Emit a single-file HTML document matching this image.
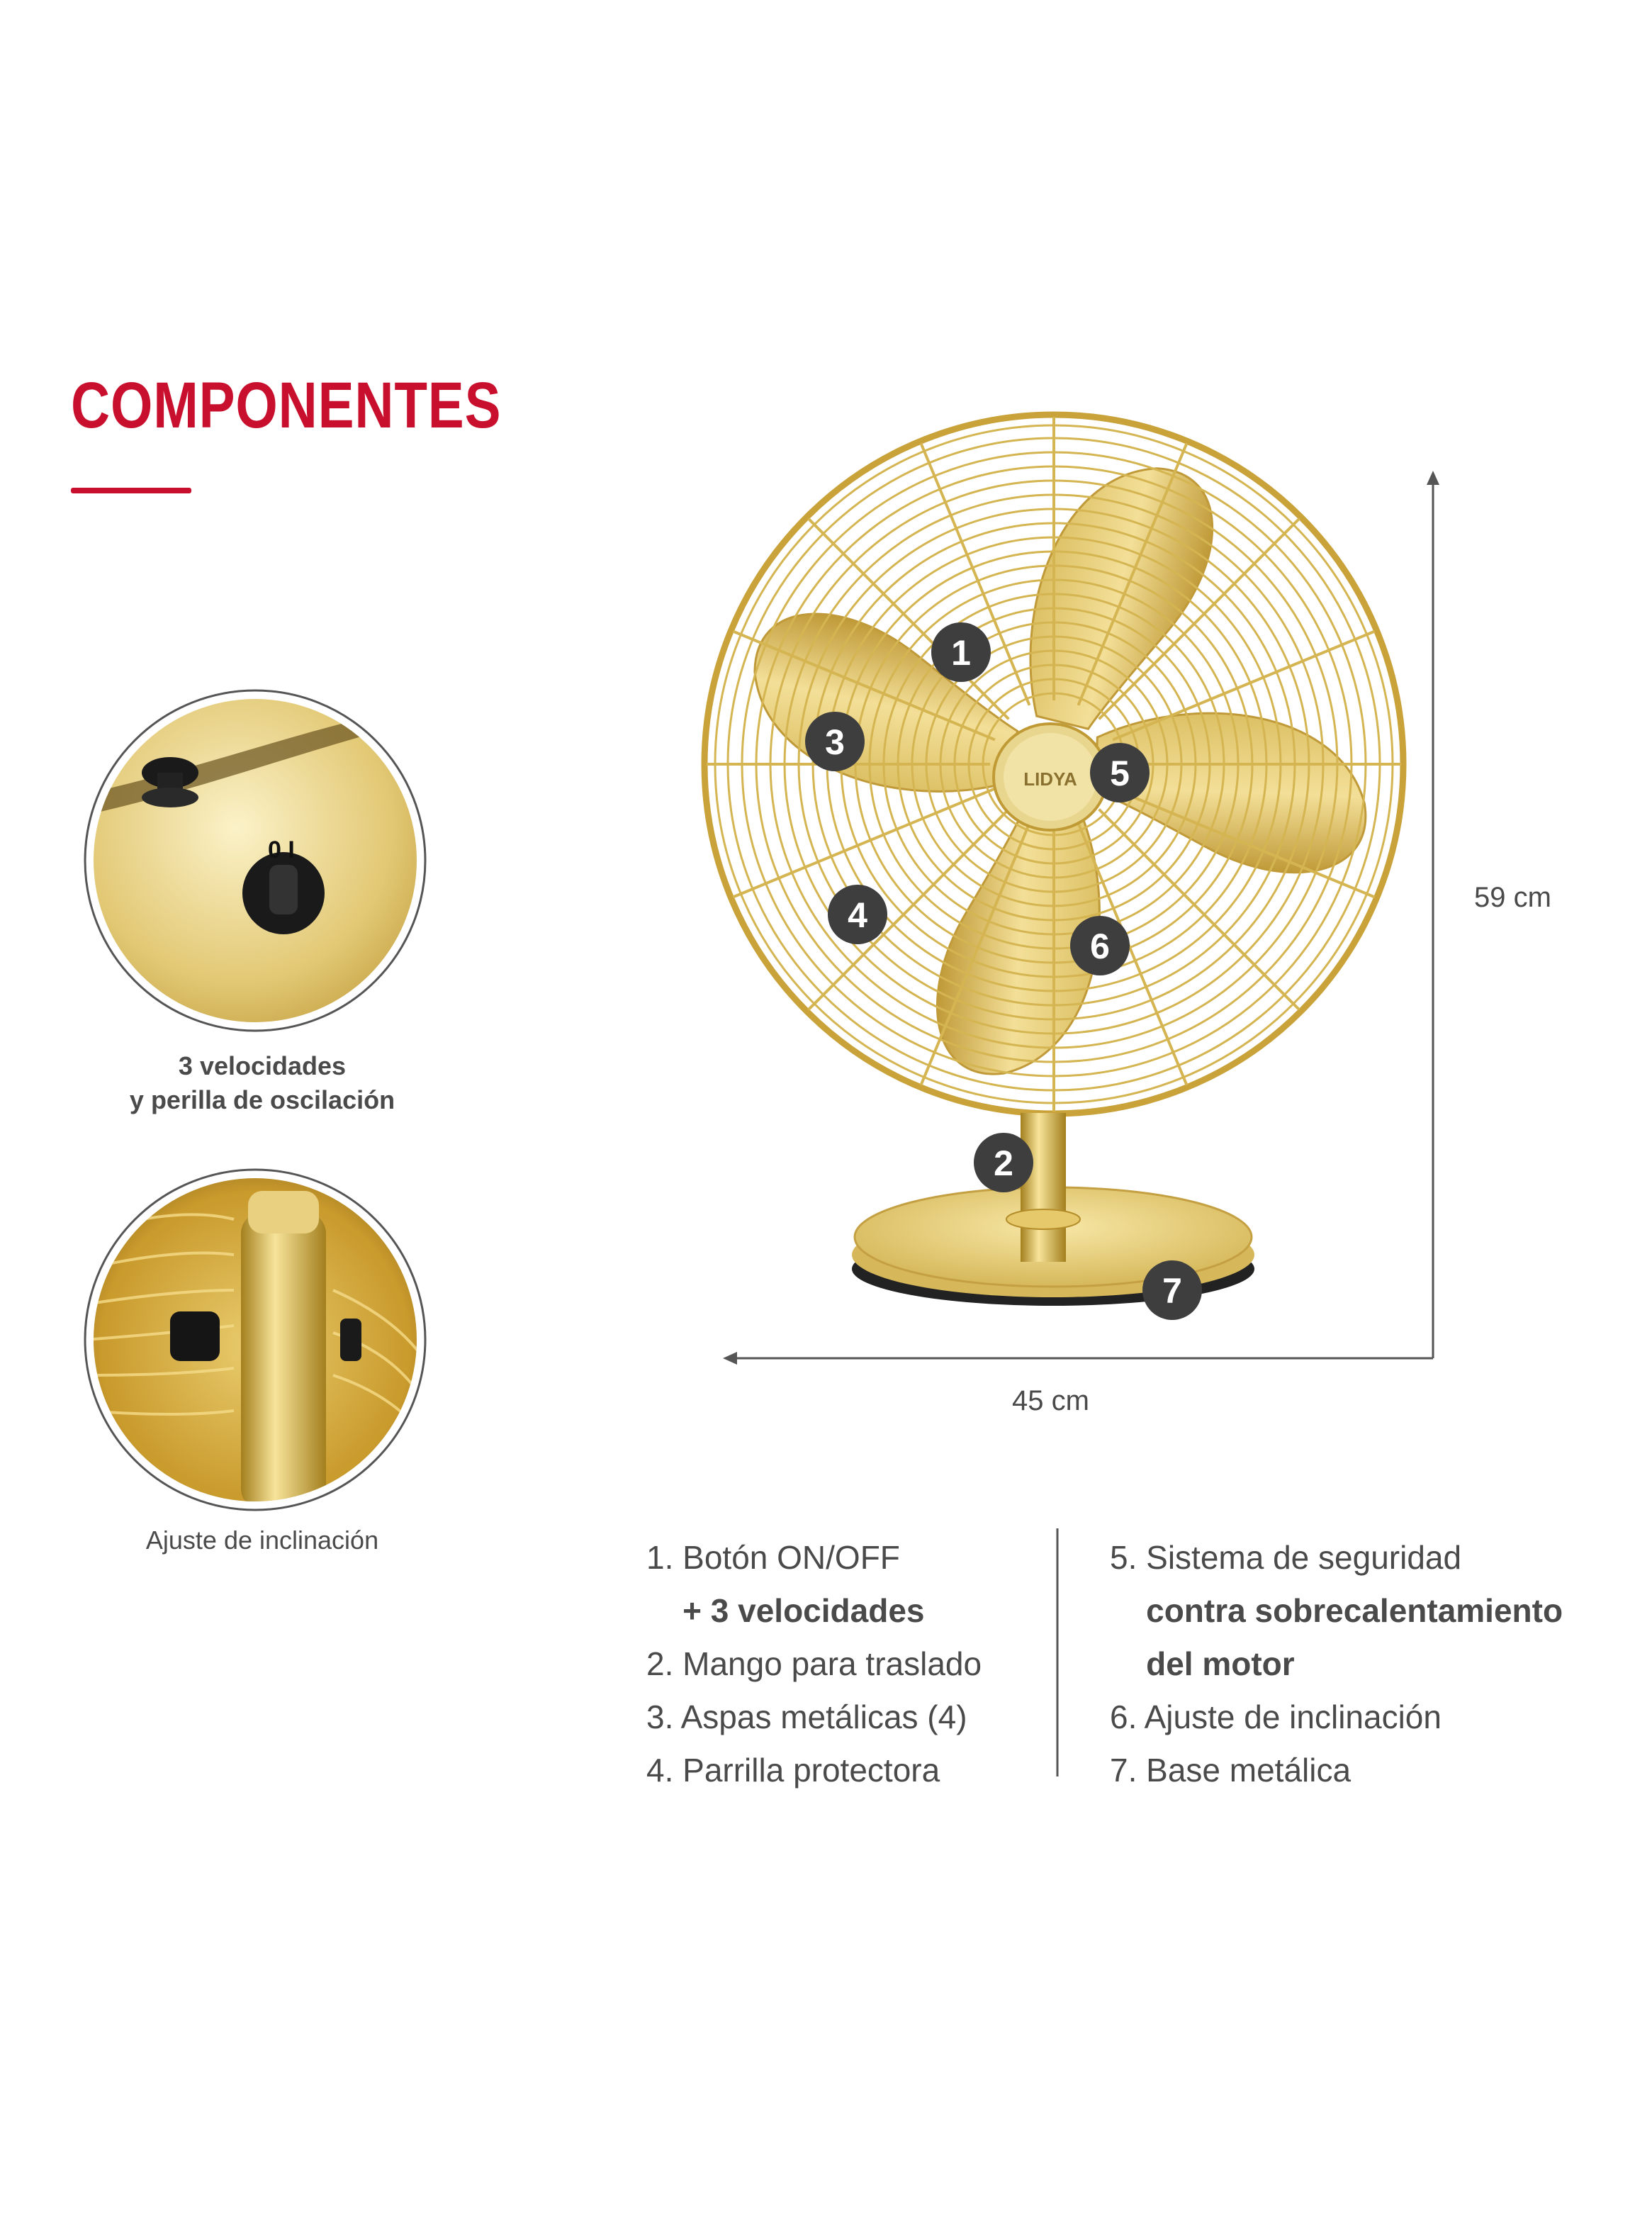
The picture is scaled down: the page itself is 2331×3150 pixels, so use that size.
<!DOCTYPE html>
<html><head><meta charset="utf-8"><style>
html,body{margin:0;padding:0;background:#fff;}
body{width:2331px;height:3150px;position:relative;overflow:hidden;font-family:"Liberation Sans",sans-serif;}
.t{position:absolute;white-space:nowrap;color:#4a4a4a;}
</style></head><body>
<svg width="2331" height="3150" style="position:absolute;left:0;top:0">
<defs>
<radialGradient id="g1" cx="0.45" cy="0.4" r="0.7"><stop offset="0" stop-color="#fbf2c8"/><stop offset="0.6" stop-color="#e2c874"/><stop offset="1" stop-color="#b8912e"/></radialGradient>
<radialGradient id="g2" cx="0.5" cy="0.5" r="0.6"><stop offset="0" stop-color="#e9cc6e"/><stop offset="0.7" stop-color="#c99a2c"/><stop offset="1" stop-color="#7a5a18"/></radialGradient>
<linearGradient id="bl" x1="0" y1="0" x2="1" y2="0"><stop offset="0" stop-color="#dcc064"/><stop offset="0.5" stop-color="#f3df98"/><stop offset="1" stop-color="#c09a38"/></linearGradient>
<linearGradient id="st" x1="0" y1="0" x2="1" y2="0"><stop offset="0" stop-color="#a37f1e"/><stop offset="0.4" stop-color="#f7e49a"/><stop offset="1" stop-color="#a37f1e"/></linearGradient>
<radialGradient id="bs" cx="0.5" cy="0.4" r="0.6"><stop offset="0" stop-color="#f7e7a6"/><stop offset="1" stop-color="#d6b85a"/></radialGradient>
<clipPath id="c1"><circle cx="360" cy="1214" r="228"/></clipPath>
<clipPath id="c2"><circle cx="360" cy="1890" r="228"/></clipPath>
</defs>
<rect x="100" y="688" width="170" height="8" rx="3" fill="#c8102e"/>
<circle cx="360" cy="1214" r="240" fill="none" stroke="#555" stroke-width="3"/>
<g clip-path="url(#c1)">
<rect x="100" y="960" width="520" height="520" fill="url(#g1)"/>
<path d="M120 1120 C300 1080 450 1020 620 990 L620 1010 C450 1050 300 1110 120 1150Z" fill="#6a5320" opacity="0.7"/>
<ellipse cx="240" cy="1090" rx="40" ry="22" fill="#1a1a1a"/>
<rect x="222" y="1090" width="36" height="30" fill="#222"/>
<ellipse cx="240" cy="1125" rx="40" ry="14" fill="#2a2a2a"/>
<circle cx="400" cy="1260" r="58" fill="#1a1a1a"/>
<rect x="380" y="1220" width="40" height="70" rx="12" fill="#333"/>
<text x="378" y="1210" font-size="34" font-weight="bold" fill="#111" font-family="Liberation Sans">0  I</text>
</g>
<circle cx="360" cy="1890" r="240" fill="none" stroke="#555" stroke-width="3"/>
<g clip-path="url(#c2)">
<rect x="100" y="1640" width="520" height="520" fill="url(#g2)"/>
<g stroke="#f5dc8a" stroke-width="4" fill="none" opacity="0.8">
<path d="M120 1740 Q250 1700 330 1720"/><path d="M120 1790 Q250 1760 330 1770"/><path d="M120 1840 Q250 1820 330 1820"/><path d="M120 1890 Q250 1880 330 1870"/><path d="M120 1940 Q250 1940 330 1930"/><path d="M120 1990 Q250 2000 330 1990"/>
<path d="M470 1820 Q560 1860 600 1920"/><path d="M470 1880 Q560 1910 600 1980"/><path d="M470 1940 Q560 1970 600 2030"/>
</g>
<rect x="340" y="1710" width="120" height="420" rx="30" fill="url(#st)"/>
<rect x="350" y="1680" width="100" height="60" rx="20" fill="#e8d080"/>
<rect x="240" y="1850" width="70" height="70" rx="14" fill="#151515"/>
<rect x="480" y="1860" width="30" height="60" rx="8" fill="#1a1a1a"/>
</g>
<g transform="translate(1487,1078)">
<g fill="url(#bl)" stroke="#c09a38" stroke-width="3">
<g transform="rotate(14)"><path d="M-40,-60 C-110,-200 -90,-400 40,-440 C140,-460 170,-340 110,-220 C80,-160 50,-100 35,-60 Z"/></g>
<g transform="rotate(92)"><path d="M-40,-60 C-110,-200 -90,-400 40,-440 C140,-460 170,-340 110,-220 C80,-160 50,-100 35,-60 Z"/></g>
<g transform="rotate(184)"><path d="M-40,-60 C-110,-200 -90,-400 40,-440 C140,-460 170,-340 110,-220 C80,-160 50,-100 35,-60 Z"/></g>
<g transform="rotate(282)"><path d="M-40,-60 C-110,-200 -90,-400 40,-440 C140,-460 170,-340 110,-220 C80,-160 50,-100 35,-60 Z"/></g>
</g>
<g fill="none" stroke="#d4b552" stroke-width="3">
<circle r="100"/><circle r="120"/><circle r="140"/><circle r="160"/><circle r="180"/><circle r="200"/><circle r="220"/><circle r="240"/><circle r="260"/><circle r="280"/><circle r="300"/><circle r="320"/><circle r="340"/><circle r="360"/><circle r="380"/><circle r="400"/><circle r="420"/><circle r="440"/><circle r="460"/><circle r="478"/>
</g>
<circle r="493" fill="none" stroke="#c9a23a" stroke-width="9"/>
<g stroke="#d4b552" stroke-width="4">
<line x1="0" y1="-90" x2="0" y2="-490"/><line x1="0" y1="-90" x2="0" y2="-490" transform="rotate(22.5)"/><line x1="0" y1="-90" x2="0" y2="-490" transform="rotate(45)"/><line x1="0" y1="-90" x2="0" y2="-490" transform="rotate(67.5)"/><line x1="0" y1="-90" x2="0" y2="-490" transform="rotate(90)"/><line x1="0" y1="-90" x2="0" y2="-490" transform="rotate(112.5)"/><line x1="0" y1="-90" x2="0" y2="-490" transform="rotate(135)"/><line x1="0" y1="-90" x2="0" y2="-490" transform="rotate(157.5)"/><line x1="0" y1="-90" x2="0" y2="-490" transform="rotate(180)"/><line x1="0" y1="-90" x2="0" y2="-490" transform="rotate(202.5)"/><line x1="0" y1="-90" x2="0" y2="-490" transform="rotate(225)"/><line x1="0" y1="-90" x2="0" y2="-490" transform="rotate(247.5)"/><line x1="0" y1="-90" x2="0" y2="-490" transform="rotate(270)"/><line x1="0" y1="-90" x2="0" y2="-490" transform="rotate(292.5)"/><line x1="0" y1="-90" x2="0" y2="-490" transform="rotate(315)"/><line x1="0" y1="-90" x2="0" y2="-490" transform="rotate(337.5)"/>
</g>
</g>
<ellipse cx="1482" cy="1096" rx="80" ry="75" fill="#e9d68e" stroke="#bf9a35" stroke-width="4"/>
<ellipse cx="1482" cy="1096" rx="66" ry="62" fill="#f1e2a6"/>
<text x="1482" y="1108" font-size="26" font-weight="bold" fill="#8a7130" text-anchor="middle" font-family="Liberation Sans">LIDYA</text>
<ellipse cx="1486" cy="1790" rx="284" ry="52" fill="#222"/>
<ellipse cx="1486" cy="1770" rx="284" ry="60" fill="#d6b75a"/>
<ellipse cx="1486" cy="1745" rx="280" ry="70" fill="url(#bs)" stroke="#c4a043" stroke-width="3"/>
<rect x="1440" y="1570" width="64" height="210" fill="url(#st)"/>
<ellipse cx="1472" cy="1720" rx="52" ry="14" fill="#e6c96a" stroke="#b48d2a" stroke-width="2"/>
<g fill="#3e3e3e"><circle cx="1356" cy="920" r="42"/><circle cx="1178" cy="1046" r="42"/><circle cx="1580" cy="1090" r="42"/><circle cx="1210" cy="1290" r="42"/><circle cx="1552" cy="1334" r="42"/><circle cx="1416" cy="1640" r="42"/><circle cx="1654" cy="1820" r="42"/></g>
<g fill="#fff" font-size="50" font-weight="bold" text-anchor="middle" font-family="Liberation Sans">
<text x="1356" y="938">1</text><text x="1178" y="1064">3</text><text x="1580" y="1108">5</text><text x="1210" y="1308">4</text><text x="1552" y="1352">6</text><text x="1416" y="1658">2</text><text x="1654" y="1838">7</text></g>
<line x1="2022" y1="680" x2="2022" y2="1916" stroke="#555" stroke-width="3"/>
<polygon points="2022,664 2013,684 2031,684" fill="#555"/>
<line x1="1036" y1="1916" x2="2022" y2="1916" stroke="#555" stroke-width="3"/>
<polygon points="1020,1916 1040,1907 1040,1925" fill="#555"/>
<line x1="1492" y1="2156" x2="1492" y2="2506" stroke="#555" stroke-width="3"/>
</svg>
<div class="t" style="left:100px;top:520px;font-size:92px;font-weight:bold;color:#c8102e;letter-spacing:1px;transform:scaleX(0.83);transform-origin:left;">COMPONENTES</div>
<div class="t" style="left:370px;top:1480px;font-size:36px;font-weight:bold;transform:translateX(-50%);text-align:center;line-height:48px;">3 velocidades<br>y perilla de oscilación</div>
<div class="t" style="left:370px;top:2152px;font-size:36px;transform:translateX(-50%);">Ajuste de inclinación</div>
<div class="t" style="left:2080px;top:1244px;font-size:40px;">59 cm</div>
<div class="t" style="left:1428px;top:1954px;font-size:40px;">45 cm</div>
<div class="t" style="left:912px;top:2160px;font-size:46px;line-height:75px;">1. Botón ON/OFF<br>&nbsp;&nbsp;&nbsp;&nbsp;<b>+ 3 velocidades</b><br>2. Mango para traslado<br>3. Aspas metálicas (4)<br>4. Parrilla protectora</div>
<div class="t" style="left:1566px;top:2160px;font-size:46px;line-height:75px;">5. Sistema de seguridad<br>&nbsp;&nbsp;&nbsp;&nbsp;<b>contra sobrecalentamiento</b><br>&nbsp;&nbsp;&nbsp;&nbsp;<b>del motor</b><br>6. Ajuste de inclinación<br>7. Base metálica</div>
</body></html>
